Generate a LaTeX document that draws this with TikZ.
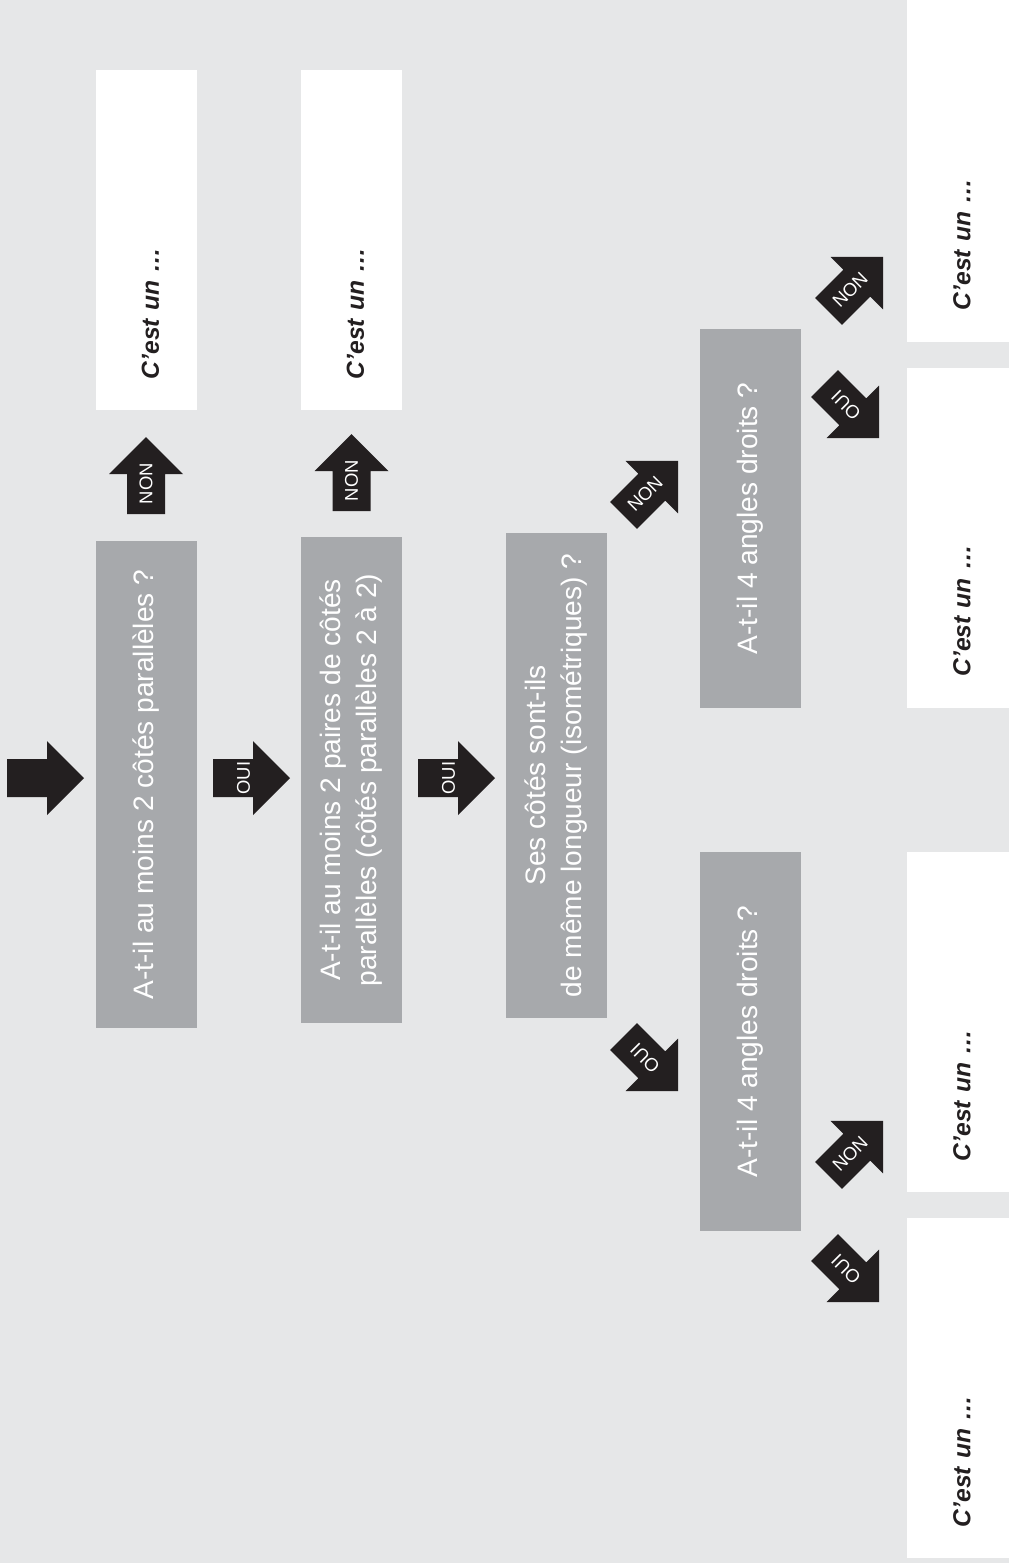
\documentclass[tikz,border=0pt]{standalone}
\usepackage{fontspec}
\setmainfont{Liberation Sans}

\definecolor{fond}{HTML}{E6E7E8}
\definecolor{gris}{HTML}{A7A9AC}
\definecolor{noir}{HTML}{231F20}

\tikzset{
  question/.style={fill=gris, text=white, rotate=90, align=center, inner sep=0pt,
    minimum height=20.2mm, font=\fontsize{16}{20.5}\selectfont},
  reponse/.style={fill=white, text=noir, rotate=90, align=left, text width=55.6mm,
    text height=14pt, text depth=0pt,
    inner xsep=6.2mm, inner ysep=0pt, minimum height=20.2mm,
    font=\fontsize{14}{16}\selectfont\bfseries\itshape},
  pics/fleche/.style 2 args={code={
    \fill[noir] (-38.5,-19) -- (1.5,-19) -- (1.5,-37) -- (38.5,0) -- (1.5,37)
      -- (1.5,19) -- (-38.5,19) -- cycle;
    \node[rotate=#1, text=white, inner sep=0pt, font=\fontsize{10.5}{12}\selectfont]
      (-txt) at (-8,0) {#2};
  }}
}

\begin{document}
\begin{tikzpicture}[x=0.2mm, y=-0.2mm]
\useasboundingbox (0,0) rectangle (1009,1563);
\fill[fond] (0,0) rectangle (1009,1563);

% questions
\node[question, minimum width=97.4mm] (q1) at (146.5,784.5) {A-t-il au moins 2 côtés parallèles ?};
\node[question, minimum width=97.2mm] (q2) at (351.5,780) {A-t-il au moins 2 paires de côtés\\parallèles (côtés parallèles 2 à 2)};
\node[question, minimum width=97mm] (q3) at (556.5,775.5) {Ses côtés sont-ils\\de même longueur (isométriques) ?};
\node[question, minimum width=75.8mm] (q4) at (750.5,1041.5) {A-t-il 4 angles droits ?};
\node[question, minimum width=75.8mm] (q5) at (750.5,518.5) {A-t-il 4 angles droits ?};

% reponses
\node[reponse] (r1) at (146.5,240) {C'est un …};
\node[reponse] (r2) at (351.5,240) {C'est un …};
\node[reponse, minimum height=20.4mm, minimum width=68.4mm] (r3) at (958,171) {C'est un …};
\node[reponse, minimum height=20.4mm] (r4) at (958,537.5) {C'est un …};
\node[reponse, minimum height=20.4mm] (r5) at (958,1022) {C'est un …};
\node[reponse, minimum height=20.4mm] (r6) at (958,1388) {C'est un …};

% fleches
\pic (depart) at (45.5,778) {fleche={90}{}};
\pic (oui1) at (251.5,778) {fleche={90}{OUI}};
\pic (oui2) at (456.5,778) {fleche={90}{OUI}};
\pic[rotate=90] (non1) at (146,475.5) {fleche={90}{NON}};
\pic[rotate=90] (non2) at (351.5,472.5) {fleche={90}{NON}};
\pic[rotate=-45] (oui3) at (650.8,1063.8) {fleche={135}{OUI}};
\pic[rotate=45] (non3) at (650.8,488.2) {fleche={45}{NON}};
\pic[rotate=-45] (oui4) at (851.8,1274.8) {fleche={135}{OUI}};
\pic[rotate=45] (non4) at (855.8,1148.2) {fleche={45}{NON}};
\pic[rotate=-45] (oui5) at (851.8,410.8) {fleche={135}{OUI}};
\pic[rotate=45] (non5) at (855.8,284.2) {fleche={45}{NON}};
\end{tikzpicture}
\end{document}
